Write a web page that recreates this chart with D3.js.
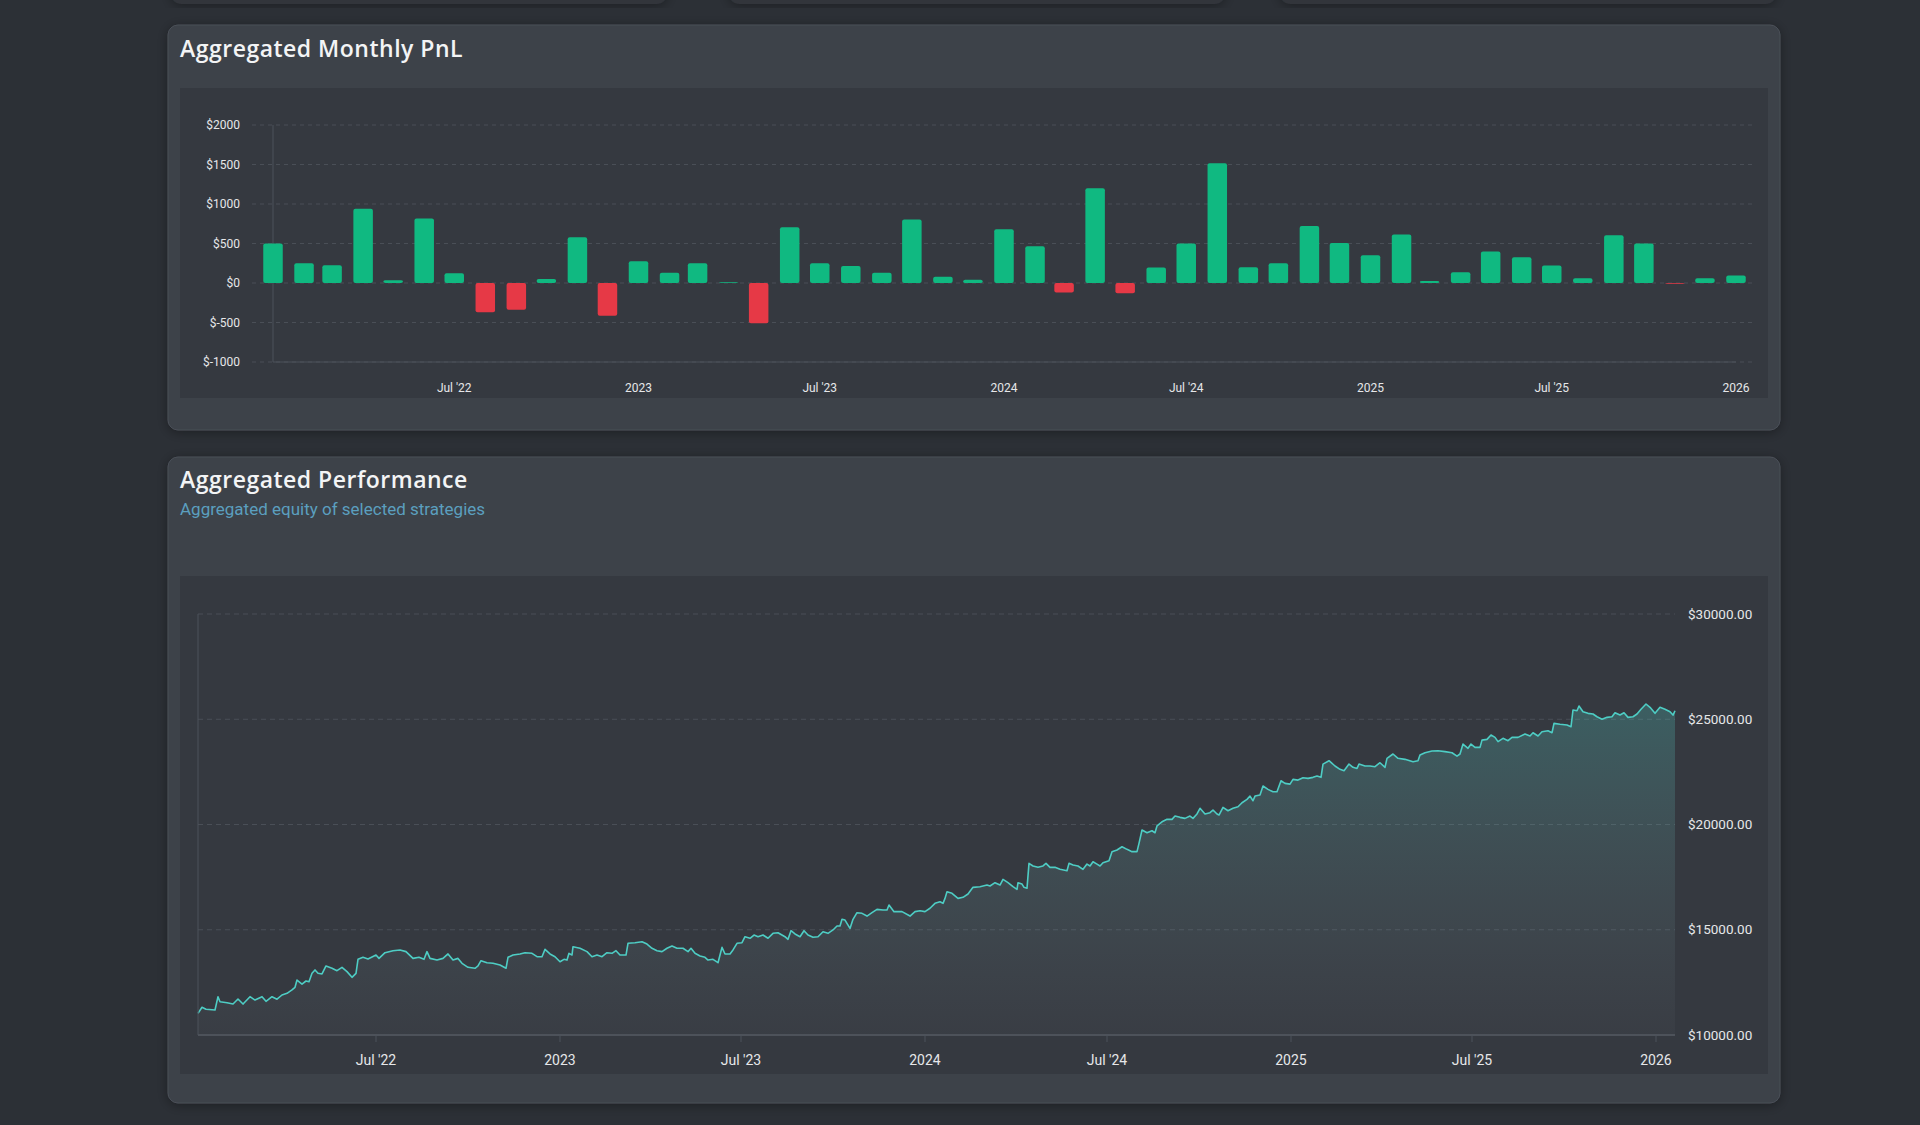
<!DOCTYPE html>
<html><head><meta charset="utf-8">
<script src="https://cdn.jsdelivr.net/npm/d3@7"></script>
<style>
html,body{margin:0;padding:0;background:#2c3036;}
svg{display:block;}
</style></head><body>
<svg id="c" width="1920" height="1125"></svg>
<script>
// ---------- Monthly PnL ----------
const pnlMonths = [
  "2022-01","2022-02","2022-03","2022-04","2022-05","2022-06","2022-07","2022-08","2022-09","2022-10","2022-11","2022-12",
  "2023-01","2023-02","2023-03","2023-04","2023-05","2023-06","2023-07","2023-08","2023-09","2023-10","2023-11","2023-12",
  "2024-01","2024-02","2024-03","2024-04","2024-05","2024-06","2024-07","2024-08","2024-09","2024-10","2024-11","2024-12",
  "2025-01","2025-02","2025-03","2025-04","2025-05","2025-06","2025-07","2025-08","2025-09","2025-10","2025-11","2025-12",
  "2026-01"];
const pnlValues = [
  500,250,225,940,35,815,125,-370,-340,50,580,-415,
  275,130,250,10,-510,705,250,215,130,805,80,40,
  680,465,-120,1200,-130,195,500,1515,200,250,720,505,
  350,615,25,135,400,325,220,60,605,500,-8,60,
  95];
const pnlYTicks = [-1000,-500,0,500,1000,1500,2000];
const pnlXDomain = ["2022-01-01","2026-01-01"];

// ---------- Aggregated equity ----------
const equityStart = "2022-01-04";   // day offsets below are counted from this date
const equityDayOffset = [
  0,4,8,17,20,22,29,35,40,45,52,57,64,68,74,79,84,89,94,97,99,104,108,111,114,117,120,124,128,134,139,144,149,154,158,160,165,170,178,181,187,195,202,208,215,221,226,229,232,239,245,250,255,260,264,270,277,280,283,289,295,302,308,310,315,322,327,334,339,344,347,352,357,362,366,
  369,371,374,375,382,389,394,399,404,409,414,418,422,428,430,437,444,449,454,459,464,469,474,479,485,490,493,497,502,507,510,515,520,522,524,527,532,535,539,544,547,552,556,560,565,570,575,580,587,590,593,597,602,606,610,615,620,625,630,635,639,642,644,647,652,655,659,664,669,674,679,685,689,691,696,704,712,717,722,
  727,732,737,742,745,747,749,754,760,765,770,775,782,789,792,797,802,805,810,815,819,820,824,826,829,831,835,840,845,848,852,857,862,869,871,875,880,885,889,892,895,899,902,905,911,914,919,924,929,934,939,941,944,949,954,957,959,964,969,974,977,982,987,992,995,999,1002,1007,1012,1015,1019,1021,1025,1030,1035,1040,1044,1049,1052,1055,1057,1062,1065,1070,1075,1079,1083,1087,1092,
  1095,1100,1105,1110,1115,1119,1123,1125,1131,1137,1142,1146,1151,1155,1159,1161,1167,1172,1177,1182,1187,1189,1195,1200,1207,1215,1220,1222,1227,1234,1240,1247,1254,1259,1262,1265,1270,1273,1277,1282,1284,1289,1293,1297,1300,1305,1310,1314,1320,1327,1332,1335,1340,1344,1350,1354,1356,1362,1369,1373,1375,1379,1381,1385,1390,1395,1399,1404,1409,1414,1417,1422,1426,1430,1435,1439,1443,1448,1452,1457,1462,1467,1472,1475,1477];
const equityValue = [
  11030,11320,11220,11190,11820,11580,11535,11470,11710,11470,11820,11660,11820,11600,11820,11700,11900,11980,12140,12265,12610,12420,12565,12530,12930,13090,12930,12900,13280,13170,13055,13215,13010,12740,12930,13595,13690,13610,13800,13640,13910,14005,14040,13960,13640,13690,13595,13960,13640,13560,13640,13850,13560,13640,13405,13215,13170,13280,13530,13435,13405,13325,13170,13690,13800,13850,13910,13880,13720,13720,14070,13850,13720,13480,13595,
  13560,13880,13800,14195,14120,13960,13720,13800,13720,13910,13880,14005,13800,13800,14355,14385,14430,14320,14120,14005,13960,14120,14230,14120,14120,13960,14120,13880,13750,13690,13560,13595,13435,13800,14165,13850,13850,14040,14355,14385,14670,14595,14750,14670,14750,14595,14830,14860,14670,14545,14955,14800,14670,14955,14750,14640,14670,14905,14830,14990,15180,15180,15495,15460,15065,15495,15810,15780,15650,15810,15970,15940,15940,16175,15860,15860,15650,15860,15905,
  15860,16020,16255,16330,16255,16490,16805,16730,16490,16540,16700,17015,17045,17125,17080,17235,17125,17395,17235,17045,16920,17235,17170,17015,16970,18155,18030,17965,18030,18155,17965,17965,17870,17805,18155,18075,18030,17870,18120,18030,18230,18120,18030,18185,18280,18710,18790,18945,18820,18710,18710,19105,19740,19610,19705,19610,19930,20130,20245,20245,20400,20340,20290,20400,20290,20500,20770,20500,20560,20690,20500,20450,20815,20655,20770,20845,21035,21195,21350,21130,21350,21400,21830,21670,21555,21555,22080,21955,21920,
  22145,22110,22220,22190,22240,22300,22240,22870,23030,22780,22620,22555,22870,22715,22665,22870,22780,22780,22745,22935,22715,23145,23350,23145,23095,22980,23030,23300,23410,23490,23505,23460,23410,23250,23350,23820,23620,23820,23665,23665,24010,24045,24250,24140,23935,24095,23980,24140,24140,24300,24205,24360,24205,24410,24455,24360,24805,24760,24725,24645,25440,25405,25630,25360,25280,25250,25120,25000,25090,25120,25310,25200,25310,25090,25120,25250,25475,25725,25565,25280,25565,25475,25360,25200,25405];
const equityYTicks = [10000,15000,20000,25000,30000];
const xTickDates = ["2022-07-01","2023-01-01","2023-07-01","2024-01-01","2024-07-01","2025-01-01","2025-07-01","2026-01-01"];

// ---------- helpers ----------
const parseDay = d3.timeParse("%Y-%m-%d");
const parseMonth = d3.timeParse("%Y-%m");
const fmtTick = d => d.getMonth() === 0 ? d3.timeFormat("%Y")(d) : d3.timeFormat("%b '%y")(d);
const svg = d3.select("#c");
const LABEL = "#e6e7e9", GRID = "#4a4f57", AXIS = "#4d525a";
const FONT = "Roboto, 'Noto Sans', sans-serif";
const TITLE_FONT = "'Open Sans', 'Noto Sans', sans-serif";

const defs = svg.append("defs");
const sh = defs.append("filter").attr("id","shadow").attr("x","-5%").attr("y","-10%").attr("width","110%").attr("height","120%");
sh.append("feDropShadow").attr("dx",0).attr("dy",2).attr("stdDeviation",6).attr("flood-color","#000").attr("flood-opacity",0.35);

// remnants of cards above
[[171,667],[729,1225],[1280,1776]].forEach(([a,b]) => {
  svg.append("rect").attr("x",a).attr("y",-30).attr("width",b-a).attr("height",34).attr("rx",10)
    .attr("fill","#30343b").attr("filter","url(#shadow)");
});

// ---------- cards ----------
function card(y, h) {
  svg.append("rect").attr("x",168).attr("y",y).attr("width",1612).attr("height",h).attr("rx",10)
    .attr("fill","#3d4249").attr("stroke","#4b5058").attr("stroke-width",1).attr("filter","url(#shadow)");
}
card(25, 405);
card(457, 646);

svg.append("text").attr("x",180).attr("y",57).text("Aggregated Monthly PnL")
  .attr("font-family",TITLE_FONT).attr("font-weight",600).attr("font-size",23).attr("letter-spacing",0.5).attr("fill","#f3f4f5");
svg.append("text").attr("x",180).attr("y",488).text("Aggregated Performance")
  .attr("font-family",TITLE_FONT).attr("font-weight",600).attr("font-size",23).attr("letter-spacing",0.5).attr("fill","#f3f4f5");
svg.append("text").attr("x",180).attr("y",515).text("Aggregated equity of selected strategies")
  .attr("font-family",FONT).attr("font-size",17).attr("fill","#5b9fbf");

// panels
svg.append("rect").attr("x",180).attr("y",88).attr("width",1588).attr("height",310).attr("fill","#353940");
svg.append("rect").attr("x",180).attr("y",576).attr("width",1588).attr("height",498).attr("fill","#353940");

// ---------- PnL bar chart ----------
const px = d3.scaleTime().domain(pnlXDomain.map(parseDay)).range([273,1736]);
const py = d3.scaleLinear().domain([-1000,2000]).range([362,125]);
const g1 = svg.append("g");
g1.selectAll("line.grid").data(pnlYTicks).join("line")
  .attr("x1",252).attr("x2",1756).attr("y1",d=>py(d)).attr("y2",d=>py(d))
  .attr("stroke",GRID).attr("stroke-width",1).attr("stroke-dasharray","4,4");
g1.append("line").attr("x1",273).attr("x2",273).attr("y1",py(2000)).attr("y2",py(-1000)).attr("stroke",AXIS);
g1.append("line").attr("x1",273).attr("x2",1736).attr("y1",py(-1000)).attr("y2",py(-1000)).attr("stroke",AXIS);
g1.selectAll("text.yl").data(pnlYTicks).join("text")
  .attr("x",240).attr("y",d=>py(d)).attr("dy","0.35em").attr("text-anchor","end")
  .attr("font-family",FONT).attr("font-size",12).attr("fill",LABEL).text(d=>"$"+d);
g1.selectAll("text.xl").data(xTickDates.map(parseDay)).join("text")
  .attr("x",d=>px(d)).attr("y",392).attr("text-anchor","middle")
  .attr("font-family",FONT).attr("font-size",12).attr("fill",LABEL).text(fmtTick);
const bw = 19.5;
g1.selectAll("rect.bar").data(pnlMonths.map((m,i)=>({d:parseMonth(m), v:pnlValues[i]}))).join("rect")
  .attr("x",d=>px(d.d)-bw/2).attr("width",bw)
  .attr("y",d=>py(Math.max(0,d.v))).attr("height",d=>Math.max(0.8, Math.abs(py(d.v)-py(0))))
  .attr("rx",2).attr("fill",d=>d.v>=0?"#10b981":"#e63946");

// ---------- Equity area chart ----------
const start = parseDay(equityStart);
const eq = equityDayOffset.map((o,i)=>({d:d3.timeDay.offset(start,o), v:equityValue[i]}));
const ex = d3.scaleTime().domain(d3.extent(eq,d=>d.d)).range([198,1675]);
const ey = d3.scaleLinear().domain([10000,30000]).range([1035,614]);
const g2 = svg.append("g");
const grad = defs.append("linearGradient").attr("id","eqGrad").attr("gradientUnits","userSpaceOnUse")
  .attr("x1",0).attr("x2",0).attr("y1",ey(26000)).attr("y2",ey(10000));
grad.append("stop").attr("offset","0%").attr("stop-color","#4ecdc4").attr("stop-opacity",0.26);
grad.append("stop").attr("offset","100%").attr("stop-color","#9aa3ad").attr("stop-opacity",0.04);

g2.selectAll("line.grid").data(equityYTicks.filter(t=>t>10000)).join("line")
  .attr("x1",198).attr("x2",1675).attr("y1",d=>ey(d)).attr("y2",d=>ey(d))
  .attr("stroke",GRID).attr("stroke-width",1).attr("stroke-dasharray","5,4");
g2.append("path").datum(eq)
  .attr("d",d3.area().x(d=>ex(d.d)).y0(ey(10000)).y1(d=>ey(d.v)))
  .attr("fill","url(#eqGrad)");
g2.append("path").datum(eq)
  .attr("d",d3.line().x(d=>ex(d.d)).y(d=>ey(d.v)))
  .attr("fill","none").attr("stroke","#4ecdc4").attr("stroke-width",1.6).attr("stroke-linejoin","round");
g2.append("line").attr("x1",198).attr("x2",198).attr("y1",ey(30000)).attr("y2",ey(10000)).attr("stroke",AXIS);
g2.append("line").attr("x1",198).attr("x2",1675).attr("y1",ey(10000)).attr("y2",ey(10000)).attr("stroke",AXIS).attr("stroke-width",2);
const xt = xTickDates.map(parseDay);
g2.selectAll("line.tick").data(xt).join("line")
  .attr("x1",d=>ex(d)).attr("x2",d=>ex(d)).attr("y1",ey(10000)).attr("y2",ey(10000)+7).attr("stroke",AXIS);
g2.selectAll("text.xl").data(xt).join("text")
  .attr("x",d=>ex(d)).attr("y",1065).attr("text-anchor","middle")
  .attr("font-family",FONT).attr("font-size",14).attr("fill",LABEL).text(fmtTick);
g2.selectAll("text.yl").data(equityYTicks).join("text")
  .attr("x",1688).attr("y",d=>ey(d)).attr("dy","0.35em").attr("text-anchor","start")
  .attr("font-family",FONT).attr("font-size",13.5).attr("fill",LABEL).text(d=>"$"+d.toFixed(2));
</script>
</body></html>
